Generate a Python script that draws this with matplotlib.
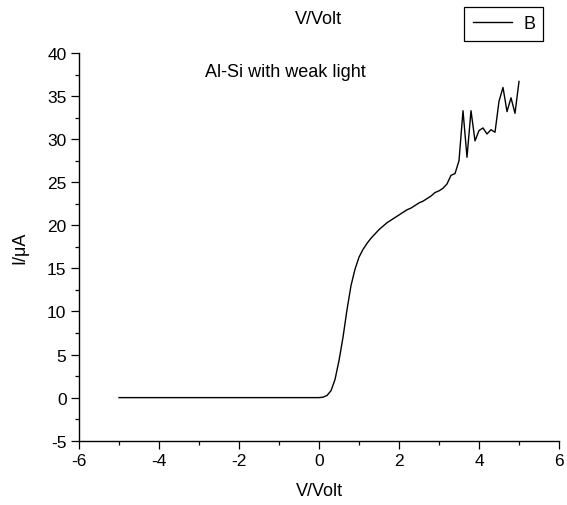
"""I-V curve of an Al-Si junction under weak light, in the old Origin look."""

import matplotlib

matplotlib.use("Agg")
import matplotlib.pyplot as plt
from matplotlib.ticker import MultipleLocator

# voltage (V) and current (uA)
volt = [-5.0, -4.0, -3.0, -2.0, -1.0,
        0.0, 0.1, 0.2, 0.3, 0.4, 0.5, 0.6, 0.7, 0.8, 0.9,
        1.0, 1.1, 1.2, 1.3, 1.4, 1.5, 1.6, 1.7, 1.8, 1.9,
        2.0, 2.1, 2.2, 2.3, 2.4, 2.5, 2.6, 2.7, 2.8, 2.9,
        3.0, 3.1, 3.2, 3.3, 3.4, 3.5, 3.6, 3.7, 3.8, 3.9,
        4.0, 4.1, 4.2, 4.3, 4.4, 4.5, 4.6, 4.7, 4.8, 4.9, 5.0]
current = [0.0, 0.0, 0.0, 0.0, 0.0,
           0.0, 0.05, 0.25, 0.8, 2.1, 4.3, 7.0, 10.2, 13.0, 14.9,
           16.3, 17.2, 17.9, 18.5, 19.0, 19.5, 19.9, 20.3, 20.6, 20.9,
           21.2, 21.5, 21.8, 22.0, 22.3, 22.6, 22.8, 23.1, 23.4, 23.8,
           24.0, 24.3, 24.8, 25.8, 26.0, 27.5, 33.3, 27.9, 33.3, 29.8,
           31.0, 31.3, 30.6, 31.1, 30.8, 34.4, 36.0, 33.2, 34.8, 33.0, 36.7]

SERIES = "B"
NOTE = "Al-Si with weak light"

plt.rcParams["font.family"] = ["Liberation Sans", "DejaVu Sans"]
plt.rcParams["font.size"] = 12.5
plt.rcParams["axes.unicode_minus"] = False  # Origin prints plain hyphens

W, H = 567, 506
fig = plt.figure(figsize=(W / 100, H / 100), dpi=100)
ax = fig.add_axes([79 / W, 1 - 441.7 / H, 480 / W, 387.7 / H])

ax.plot(volt, current, color="black", lw=1.0, label=SERIES)

ax.set_xlim(-6, 6)
ax.set_ylim(-5, 40)
ax.xaxis.set_major_locator(MultipleLocator(2))
ax.xaxis.set_minor_locator(MultipleLocator(1))
ax.yaxis.set_major_locator(MultipleLocator(5))
ax.yaxis.set_minor_locator(MultipleLocator(2.5))

for side in ("top", "right"):
    ax.spines[side].set_visible(False)
for side in ("left", "bottom"):
    ax.spines[side].set_linewidth(1.0)
ax.tick_params(which="major", direction="out", length=6, width=0.9, pad=3)
ax.tick_params(which="minor", direction="out", length=3, width=0.9)

ax.set_xlabel("V/Volt", fontsize=13)
ax.xaxis.set_label_coords(0.5, (441.7 - 491.5) / 387.7)
ax.xaxis.label.set_verticalalignment("center")
ax.set_ylabel("I/\u03bcA", fontsize=13)
ax.yaxis.set_label_coords((20 - 79) / 480, 0.5)
ax.yaxis.label.set_verticalalignment("center")

ax.text(-0.84, 37.8, NOTE, ha="center", va="center", fontsize=13)

# Origin leaves a stray top-axis title above the frame
fig.text(318 / W, 1 - 20 / H, "V/Volt", ha="center", va="center", fontsize=13)

leg = fig.legend(loc="upper right", bbox_to_anchor=(543.3 / W, 1 - 8.3 / H),
                 fancybox=False, framealpha=1, edgecolor="black",
                 handlelength=2.2, handletextpad=0.6, borderpad=0.45,
                 borderaxespad=0, fontsize=13)
leg.get_frame().set_linewidth(0.9)

fig.savefig("out.png", dpi=100)
